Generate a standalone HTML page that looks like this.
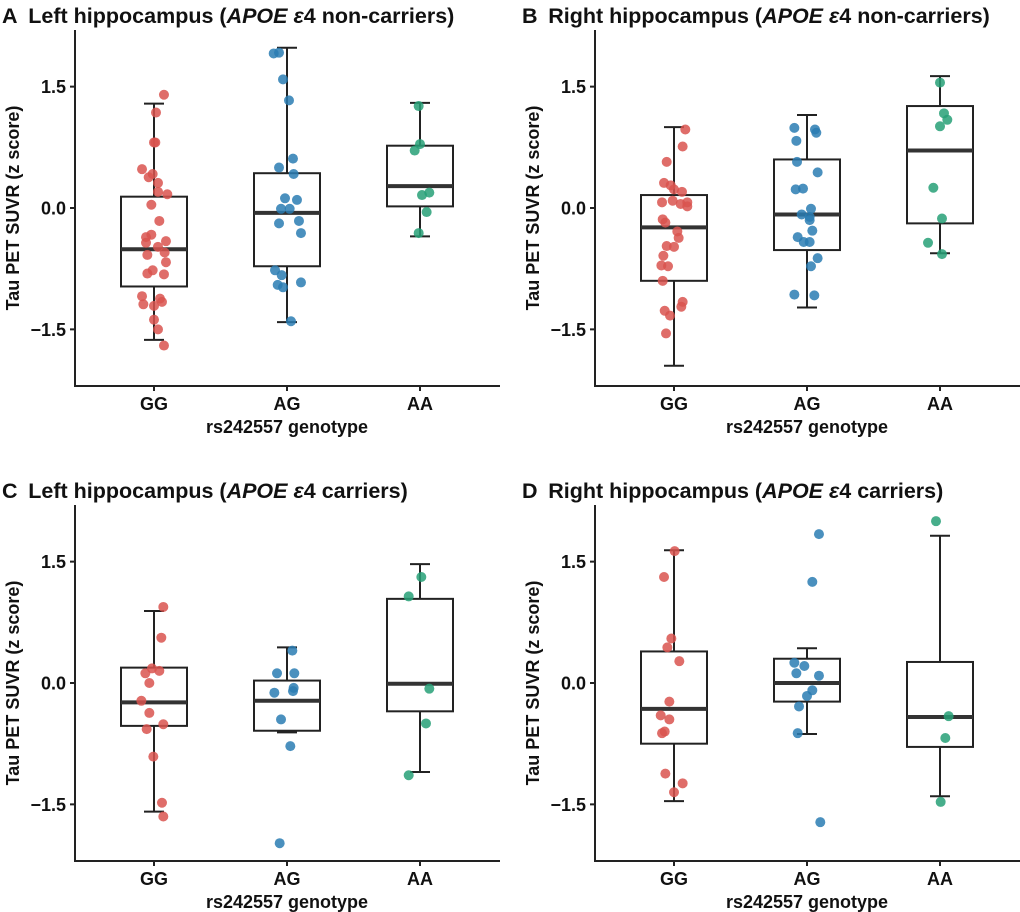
<!DOCTYPE html>
<html><head><meta charset="utf-8">
<style>
html,body{margin:0;padding:0;background:#fff;}
svg{display:block;font-family:"Liberation Sans",Arial,sans-serif;}
</style></head>
<body>
<svg id="fig" width="1020" height="912" viewBox="0 0 1020 912" xmlns="http://www.w3.org/2000/svg"></svg>
<script>
const categories = ["GG","AG","AA"];
const colors = ["#d9534f","#2a7db3","#27a077"];
const yTicks = [1.5, 0.0, -1.5];
const yTickLabels = ["1.5","0.0","\u22121.5"];
const panelTitles = ["Left hippocampus","Right hippocampus","Left hippocampus","Right hippocampus"];
const panelGroups = ["non-carriers","non-carriers","carriers","carriers"];
const panelLetters = ["A","B","C","D"];

// box stats per panel: [q1, median, q3, whiskerLow, whiskerHigh] per category
const boxA = [[-0.97,-0.51,0.14,-1.63,1.29],[-0.72,-0.06,0.43,-1.41,1.98],[0.02,0.27,0.77,-0.35,1.30]];
const boxB = [[-0.90,-0.24,0.16,-1.95,1.00],[-0.52,-0.08,0.60,-1.23,1.15],[-0.19,0.71,1.26,-0.56,1.63]];
const boxC = [[-0.53,-0.24,0.19,-1.59,0.89],[-0.59,-0.22,0.03,-0.61,0.44],[-0.35,-0.01,1.04,-1.10,1.47]];
const boxD = [[-0.75,-0.32,0.39,-1.46,1.64],[-0.23,0.00,0.30,-0.63,0.43],[-0.79,-0.42,0.26,-1.40,1.82]];

// point values per panel/category
const valsA = [
 [1.40,1.18,0.81,0.81,0.48,0.42,0.38,0.31,0.20,0.17,0.04,-0.16,-0.33,-0.36,-0.41,-0.43,-0.48,-0.55,-0.58,-0.67,-0.77,-0.81,-0.82,-1.09,-1.12,-1.16,-1.19,-1.21,-1.38,-1.50,-1.70],
 [1.91,1.92,1.59,1.33,0.61,0.50,0.42,0.12,0.10,-0.01,-0.01,-0.16,-0.19,-0.31,-0.77,-0.83,-0.95,-0.98,-0.92,-1.40],
 [1.26,0.79,0.71,0.16,0.19,-0.05,-0.31]];
const jitA = [
 [.075,.015,0,.01,-.09,-.01,-.04,.03,.03,.10,-.02,.04,-.02,-.06,.09,-.06,.03,.08,-.05,.09,-.01,-.05,.075,-.09,.045,.06,-.08,0,0,.03,.075],
 [-.1,-.06,-.03,.015,.045,-.06,.05,-.015,.075,-.045,.02,.09,-.06,.105,-.09,-.04,-.07,-.03,.105,.03],
 [-.01,0,-.04,.015,.07,.05,-.01]];
const valsB = [
 [0.97,0.76,0.57,0.31,0.28,0.23,0.20,0.07,0.09,0.05,0.07,0.02,-0.14,-0.18,-0.29,-0.37,-0.47,-0.48,-0.59,-0.71,-0.72,-0.90,-1.16,-1.22,-1.27,-1.33,-1.55],
 [0.99,0.97,0.93,0.83,0.57,0.44,0.23,0.24,-0.01,-0.08,-0.11,-0.15,-0.28,-0.36,-0.42,-0.42,-0.62,-0.72,-1.07,-1.08],
 [1.55,1.17,1.09,1.01,0.25,-0.13,-0.43,-0.57]];
const jitB = [
 [.085,.065,-.055,-.075,-.025,0,.06,-.09,-.01,.05,.1,.1,-.085,-.065,.025,.035,-.055,0,-.08,-.095,-.045,-.085,.065,.055,-.07,-.03,-.06],
 [-.095,.06,.07,-.08,-.075,.08,-.085,-.03,.03,-.04,.02,.02,.04,-.07,-.025,.02,.08,.03,-.095,.055],
 [0,.03,.055,0,-.05,.015,-.09,.015]];
const valsC = [
 [0.94,0.56,0.18,0.12,0.15,0.00,-0.22,-0.37,-0.57,-0.51,-0.91,-1.48,-1.65],
 [0.40,0.12,0.12,-0.06,-0.10,-0.12,-0.45,-0.78,-1.98],
 [1.31,1.07,-0.07,-0.50,-1.14]];
const jitC = [
 [.07,.055,-.015,-.065,.04,-.035,-.095,-.035,-.055,.07,-.005,.06,.07],
 [.04,-.075,.055,.05,.045,-.095,-.045,.025,-.055],
 [.01,-.085,.07,.045,-.085]];
const valsD = [
 [1.63,1.31,0.55,0.44,0.27,-0.23,-0.40,-0.45,-0.60,-0.62,-1.12,-1.24,-1.35],
 [1.84,1.25,0.25,0.21,0.12,0.09,-0.09,-0.16,-0.29,-0.62,-1.72],
 [2.00,-0.41,-0.68,-1.47]];
const jitD = [
 [.005,-.075,-.02,-.05,.04,-.035,-.1,-.035,-.07,-.09,-.065,.065,0],
 [.09,.04,-.095,-.02,-.08,.09,.04,0,-.06,-.07,.1],
 [-.03,.065,.04,.005]];

const boxes=[boxA,boxB,boxC,boxD], vals=[valsA,valsB,valsC,valsD], jits=[jitA,jitB,jitC,jitD];
const NS="http://www.w3.org/2000/svg";
const svg=document.getElementById('fig');
function mk(tag,attrs,parent){const e=document.createElementNS(NS,tag);for(const k in attrs)e.setAttribute(k,attrs[k]);(parent||svg).appendChild(e);return e;}

const origins=[[75,30],[595,30],[75,505],[595,505]];
const plotH=356, plotW=425, yMin=-2.2, yMax=2.2, catOffset=79, catStep=133;

for(let p=0;p<4;p++){
  const [ox,oy]=origins[p];
  const g=mk('g',{});
  
  
  const yS=v=>oy+(yMax-v)/(yMax-yMin)*plotH;
  const xS=(i,j)=>ox+catOffset+(i+(j||0))*catStep;
  const t=mk('text',{x:ox-73,y:oy-7,'font-size':21.5,'font-weight':'bold',fill:'#111'},g);
  
  
  t.innerHTML=panelLetters[p]+'\u2002'+panelTitles[p]+' (<tspan font-style="italic">APOE ε</tspan>4 '+panelGroups[p]+')';
  const ya=mk('line',{x1:ox,y1:oy,x2:ox,y2:oy+plotH,stroke:'#222','stroke-width':2},g);
  
  
  const xa=mk('line',{x1:ox-1,y1:oy+plotH,x2:ox+plotW,y2:oy+plotH,stroke:'#222','stroke-width':2},g);
  
  
  yTicks.forEach((v,k)=>{
    mk('line',{x1:ox-5,y1:yS(v),x2:ox,y2:yS(v),stroke:'#222','stroke-width':2},g);
    const tl=mk('text',{x:ox-9,y:yS(v)+6.5,'font-size':18,'font-weight':'bold','text-anchor':'end',fill:'#111'},g);
    
    
    tl.textContent=yTickLabels[k];
  });
  const yt=mk('text',{x:0,y:0,'font-size':18,'font-weight':'bold','text-anchor':'middle',fill:'#111',transform:`translate(${ox-56},${oy+plotH/2}) rotate(-90)`},g);
  
  
  yt.textContent='Tau PET SUVR (z score)';
  categories.forEach((c,i)=>{
    mk('line',{x1:xS(i),y1:oy+plotH,x2:xS(i),y2:oy+plotH+5,stroke:'#222','stroke-width':2},g);
    const cl=mk('text',{x:xS(i),y:oy+plotH+24,'font-size':18,'font-weight':'bold','text-anchor':'middle',fill:'#111'},g);
    
    
    cl.textContent=c;
  });
  const xt=mk('text',{x:xS(1),y:oy+plotH+47,'font-size':18,'font-weight':'bold','text-anchor':'middle',fill:'#111'},g);
  
  
  xt.textContent='rs242557 genotype';
  categories.forEach((c,i)=>{
    const [q1,med,q3,lo,hi]=boxes[p][i];
    const cx=xS(i), hw=33;
    const bg=mk('g',{},g);
    
    
    mk('line',{x1:cx,y1:yS(hi),x2:cx,y2:yS(q3),stroke:'#222','stroke-width':2},bg);
    mk('line',{x1:cx,y1:yS(q1),x2:cx,y2:yS(lo),stroke:'#222','stroke-width':2},bg);
    mk('line',{x1:cx-10,y1:yS(hi),x2:cx+10,y2:yS(hi),stroke:'#222','stroke-width':2},bg);
    mk('line',{x1:cx-10,y1:yS(lo),x2:cx+10,y2:yS(lo),stroke:'#222','stroke-width':2},bg);
    mk('rect',{x:cx-hw,y:yS(q3),width:2*hw,height:yS(q1)-yS(q3),fill:'#fff',stroke:'#222','stroke-width':2},bg);
    mk('line',{x1:cx-hw,y1:yS(med),x2:cx+hw,y2:yS(med),stroke:'#333','stroke-width':4},bg);
  });
  categories.forEach((c,i)=>{
    vals[p][i].forEach((v,k)=>{
      const pt=mk('circle',{cx:xS(i,jits[p][i][k]),cy:yS(v),r:5,fill:colors[i],'fill-opacity':0.85},g);
      
      
    });
  });
}
</script>
</body></html>
